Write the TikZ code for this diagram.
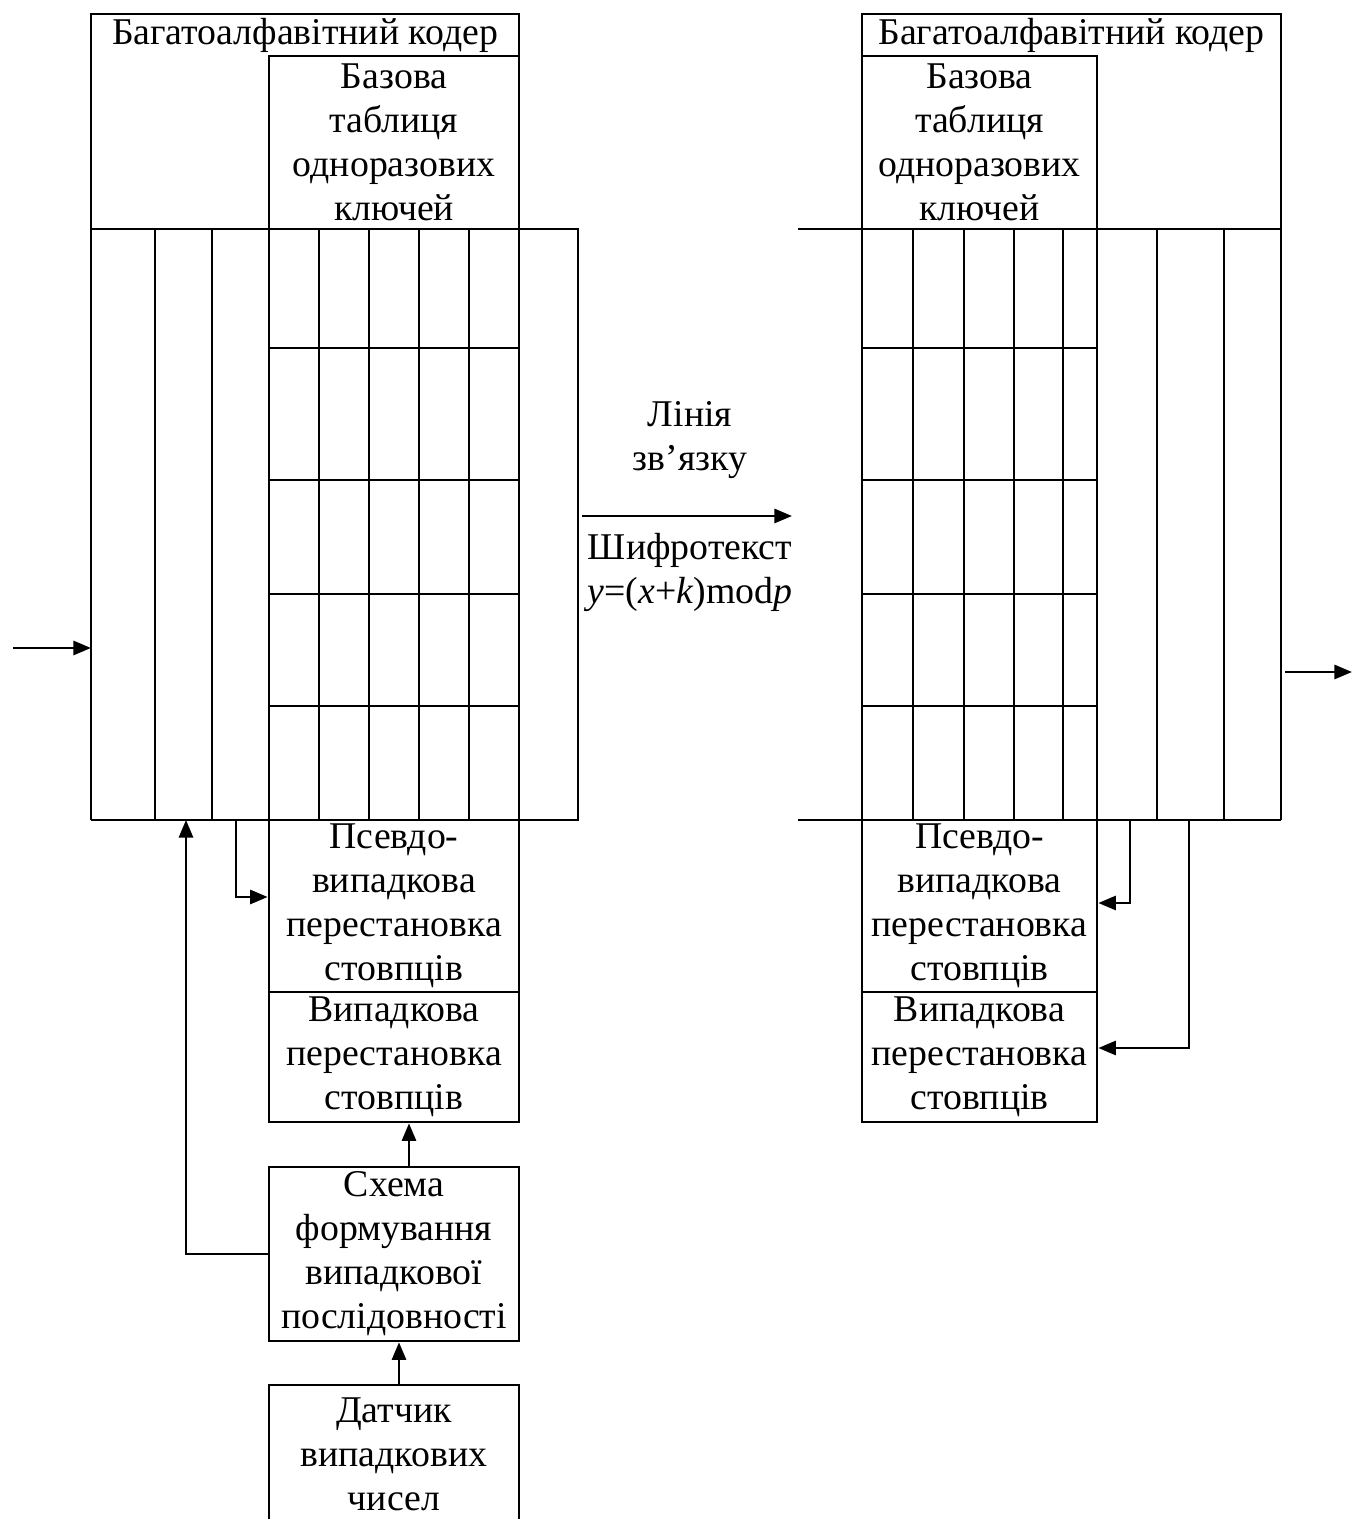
\documentclass[tikz,border=0pt]{standalone}
\usepackage{fontspec}
\setmainfont{Liberation Serif}
\usetikzlibrary{positioning,calc,arrows.meta}
\tikzset{
  ln/.style   = {line width=1.5pt},
  blk/.style  = {draw, line width=1.5pt, inner sep=0pt, align=center, font=\fontsize{21.5}{25}\selectfont},
  lbl/.style  = {inner sep=0pt, align=center, font=\fontsize{21.5}{25}\selectfont},
  arr/.style  = {line width=1.5pt, -{Triangle[length=10pt,width=8pt]}},
}

\begin{document}
\begin{tikzpicture}[x=1cm,y=1cm]
  \useasboundingbox (0,0) rectangle (27.04,30.38);

  % left coder: frame and grid
  \draw[ln] (1.82,13.98) -- (1.82,30.10) -- (10.38,30.10) -- (10.38,25.80);
  \draw[ln] (1.82,25.80) -- (11.56,25.80) -- (11.56,13.98) -- (1.82,13.98);
  \foreach \x in {3.10,4.24,5.38,6.38,7.38,8.38,9.38,10.38} {
    \draw[ln] (\x,25.80) -- (\x,13.98);
  }
  \foreach \y in {23.42,20.78,18.50,16.26} {
    \draw[ln] (5.38,\y) -- (10.38,\y);
  }
  \node[lbl] (titleL) at (6.10,29.68) {Багатоалфавітний кодер};
  \node[blk, minimum width=5cm, minimum height=3.46cm] (baseL) at (7.88,27.53) {Базова\\таблиця\\одноразових\\ключей};

  % left coder: permutation blocks
  \node[blk, minimum width=5cm, minimum height=3.44cm] (psL) at (7.88,12.26) {Псевдо-\\випадкова\\перестановка\\стовпців};
  \node[blk, minimum width=5cm, minimum height=2.60cm] (rpL) at (7.88,9.24) {Випадкова\\перестановка\\стовпців};
  \node[blk, minimum width=5cm, minimum height=3.48cm] (schL) at (7.88,5.30) {Схема\\формування\\випадкової\\послідовності};
  \node[blk, minimum width=5cm, minimum height=2.76cm] (datL) at (7.88,1.30) {Датчик\\випадкових\\чисел};

  % right coder: frame and grid
  \draw[ln] (17.24,13.98) -- (17.24,30.10) -- (25.62,30.10) -- (25.62,13.98);
  \draw[ln] (15.96,25.80) -- (25.62,25.80);
  \draw[ln] (15.96,13.98) -- (25.62,13.98);
  \foreach \x in {18.26,19.28,20.28,21.26,21.94,23.14,24.48} {
    \draw[ln] (\x,25.80) -- (\x,13.98);
  }
  \foreach \y in {23.42,20.78,18.50,16.26} {
    \draw[ln] (17.24,\y) -- (21.94,\y);
  }
  \node[lbl] (titleR) at (21.43,29.68) {Багатоалфавітний кодер};
  \node[blk, minimum width=4.7cm, minimum height=3.46cm] (baseR) at (19.59,27.53) {Базова\\таблиця\\одноразових\\ключей};
  \node[blk, minimum width=4.7cm, minimum height=3.44cm] (psR) at (19.59,12.26) {Псевдо-\\випадкова\\перестановка\\стовпців};
  \node[blk, minimum width=4.7cm, minimum height=2.60cm] (rpR) at (19.59,9.24) {Випадкова\\перестановка\\стовпців};

  % link
  \coordinate (chA) at (11.64,20.06);
  \coordinate (chB) at (15.84,20.06);
  \draw[arr] (chA) -- (chB);
  \node[lbl] (linkTop) at (13.80,21.58) {Лінія\\зв’язку};
  \node[lbl] (linkBot) at (13.80,18.93) {Шифротекст\\\textit{y}=(\textit{x}+\textit{k})mod\textit{p}};

  % input / output
  \coordinate (inL) at (0.26,17.42);
  \coordinate (frameL) at (1.82,17.42);
  \draw[arr] (inL) -- (frameL);
  \coordinate (frameR) at (25.70,16.94);
  \coordinate (outR) at (27.04,16.94);
  \draw[arr] (frameR) -- (outR);

  % control links, left
  \coordinate (tapL) at (4.72,13.98);
  \coordinate (fbL) at (3.72,13.98);
  \draw[arr] (tapL) |- ([yshift=0.18cm]psL.west);
  \draw[arr] (schL.west) -| (fbL);
  \draw[arr] ([xshift=0.30cm]schL.north) -- ([xshift=0.30cm]rpL.south);
  \draw[arr] ([xshift=0.10cm]datL.north) -- ([xshift=0.10cm]schL.south);

  % control links, right
  \coordinate (tapR1) at (22.60,13.98);
  \coordinate (tapR2) at (23.78,13.98);
  \draw[arr] (tapR1) |- ([yshift=0.06cm]psR.east);
  \draw[arr] (tapR2) |- ([yshift=0.18cm]rpR.east);
\end{tikzpicture}
\end{document}
